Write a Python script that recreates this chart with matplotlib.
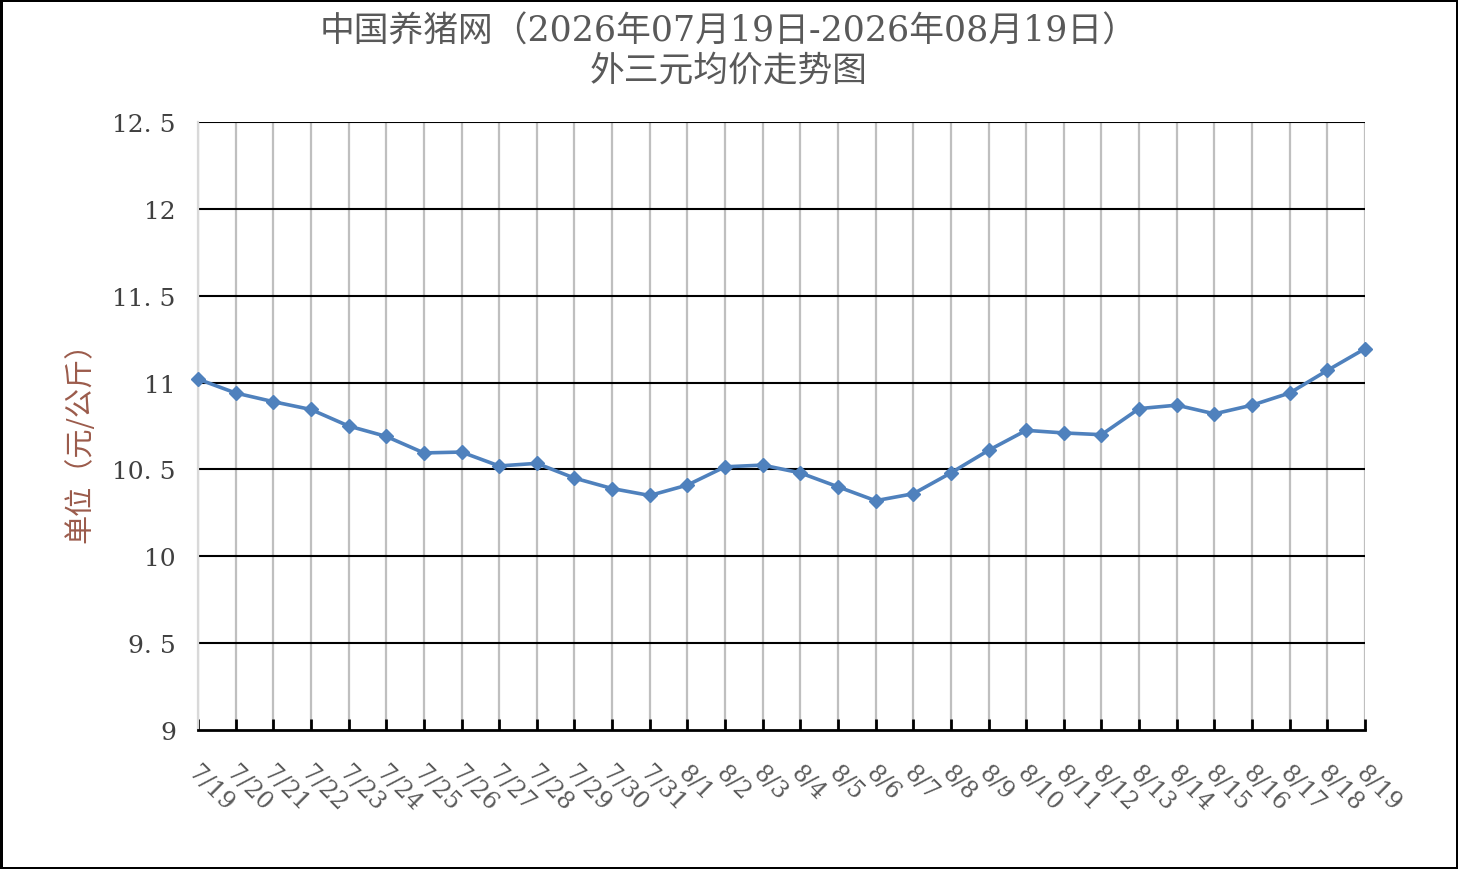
import matplotlib
matplotlib.use("Agg")
import matplotlib.pyplot as plt
import matplotlib.transforms as mtransforms

dates = ["7/19", "7/20", "7/21", "7/22", "7/23", "7/24", "7/25", "7/26", "7/27", "7/28",
         "7/29", "7/30", "7/31", "8/1", "8/2", "8/3", "8/4", "8/5", "8/6", "8/7",
         "8/8", "8/9", "8/10", "8/11", "8/12", "8/13", "8/14", "8/15", "8/16", "8/17",
         "8/18", "8/19"]
prices = [11.02, 10.94, 10.89, 10.845, 10.75, 10.69, 10.595, 10.60, 10.52, 10.535,
          10.45, 10.39, 10.35, 10.41, 10.515, 10.525, 10.48, 10.40, 10.32, 10.36,
          10.48, 10.61, 10.725, 10.71, 10.70, 10.85, 10.87, 10.82, 10.87, 10.94,
          11.07, 11.195]
y_ticks = [9, 9.5, 10, 10.5, 11, 11.5, 12, 12.5]
y_tick_labels = ["9", "9. 5", "10", "10. 5", "11", "11. 5", "12", "12. 5"]
title_text = "中国养猪网（2026年07月19日-2026年08月19日）\n外三元均价走势图"
ylabel_text = "单位（元/公斤）"

fam = ["DejaVu Serif", "Noto Sans CJK SC"]
txt_color = "#595959"

fig = plt.figure(figsize=(14.58, 8.70), dpi=100, facecolor="white",
                 edgecolor="black", linewidth=2.5)
ax = fig.add_axes([198 / 1458, 1 - 731 / 870, (1365 - 198) / 1458, (731 - 123) / 870])

x = list(range(len(dates)))
ax.set_xlim(0, len(dates) - 1)
ax.set_ylim(9, 12.5)

# grid
for xi in x:
    ax.axvline(xi, color="#BFBFBF", lw=1.6, zorder=1)
for yt in y_ticks[1:]:
    ax.axhline(yt, color="black", lw=1.5, zorder=1)

ax.plot(x, prices, color="#4F81BD", lw=2.6, marker="D", ms=7.5,
        markerfacecolor="#4F81BD", markeredgecolor="#4F81BD", zorder=3, clip_on=False)

for s in ["top", "right"]:
    ax.spines[s].set_visible(False)
ax.spines["left"].set_color("#D9D9D9")
ax.spines["left"].set_linewidth(1.6)
ax.spines["bottom"].set_color("black")
ax.spines["bottom"].set_linewidth(2)
ax.spines["bottom"].set_zorder(4)

ax.set_yticks(y_ticks)
ax.set_yticklabels(y_tick_labels, family=fam, fontsize=18, color="#404040")
ax.tick_params(axis="y", length=0, pad=16)

ax.set_xticks(x)
ax.set_xticklabels(dates, family=fam, fontsize=17, color=txt_color,
                   rotation=-45, ha="left", va="top")
ax.tick_params(axis="x", direction="in", length=8, width=2, color="black", pad=22)
offset = mtransforms.ScaledTranslation(-14 / 100, 0, fig.dpi_scale_trans)
for lab in ax.get_xticklabels():
    lab.set_transform(lab.get_transform() + offset)

fig.text(0.5, 1 - 51 / 870, title_text, ha="center", va="center", family=fam,
         fontsize=25, color=txt_color, linespacing=1.2)
fig.text(80 / 1458, 1 - 435 / 870, ylabel_text, rotation=90, ha="center", va="center",
         family=["Noto Sans CJK SC", "DejaVu Sans"], fontsize=21, color="#9B5B4B")

fig.savefig("out.png", dpi=100, facecolor="white", edgecolor="black")
